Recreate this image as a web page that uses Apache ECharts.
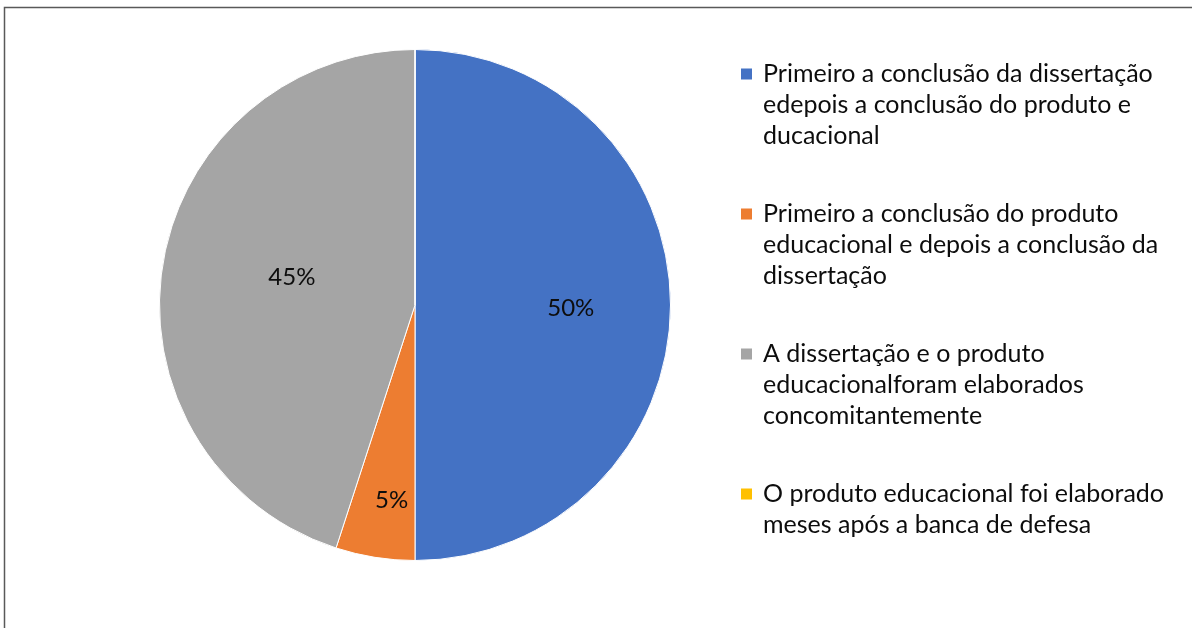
<!DOCTYPE html>
<html>
<head>
<meta charset="utf-8">
<script src="https://cdn.jsdelivr.net/npm/echarts@6/dist/echarts.min.js"></script>
<style>
html,body{margin:0;padding:0;background:#fff;}
#chart{width:1192px;height:628px;}
</style>
</head>
<body>
<div id="chart"></div>
<script>
var categories = [
  'Primeiro a conclusão da dissertação\nedepois a conclusão do produto e\nducacional',
  'Primeiro a conclusão do produto\neducacional e depois a conclusão da\ndissertação',
  'A dissertação e o produto\neducacionalforam elaborados\nconcomitantemente',
  'O produto educacional foi elaborado\nmeses após a banca de defesa'
];
var values = [50, 5, 45, 0];
var colors = ['#4472C4', '#ED7D31', '#A5A5A5', '#FFC000'];

var FONT = 'Lato';
var LH = 31;
var ICON = 11;
var labelOffsets = [[25, 3], [-3, 66], [6, -7], [0, 0]];
var legendIconCenters = [74, 214, 354, 494];

var chart = echarts.init(document.getElementById('chart'), null, {renderer: 'canvas'});

var data = categories.map(function (name, i) {
  return {
    name: name,
    value: values[i],
    itemStyle: {color: colors[i]},
    label: {show: values[i] > 0, offset: labelOffsets[i]}
  };
});

function iconFor(color, h) {
  var y = LH / 2 - ICON / 2;
  var svg = '<svg xmlns="http://www.w3.org/2000/svg" width="' + ICON + '" height="' + h +
    '" viewBox="0 0 ' + ICON + ' ' + h + '"><rect x="0" y="' + y + '" width="' + ICON +
    '" height="' + ICON + '" fill="' + color + '"/></svg>';
  return 'image://data:image/svg+xml;utf8,' + encodeURIComponent(svg);
}

var legends = categories.map(function (name, i) {
  var lines = name.split('\n').length;
  var h = lines * LH;
  return {
    show: true,
    data: [{name: name, icon: iconFor(colors[i], h)}],
    orient: 'vertical',
    left: 741,
    top: legendIconCenters[i] - LH / 2,
    padding: 0,
    itemWidth: ICON,
    itemHeight: h,
    selectedMode: false,
    textStyle: {
      fontFamily: FONT,
      fontSize: 25,
      lineHeight: LH,
      color: '#0D0D0D',
      padding: [0, 0, 0, 6]
    }
  };
});

var option = {
  animation: false,
  backgroundColor: '#fff',
  color: colors,
  legend: legends,
  graphic: [{
    type: 'rect',
    shape: {x: 4.5, y: 7.5, width: 1300, height: 800},
    style: {fill: 'none', stroke: '#595959', lineWidth: 1.5},
    silent: true
  }],
  series: [{
    type: 'pie',
    center: [415, 305],
    radius: [0, 255.5],
    startAngle: 90,
    clockwise: true,
    avoidLabelOverlap: false,
    emphasis: {disabled: true},
    itemStyle: {borderColor: '#fff', borderWidth: 1},
    label: {
      position: 'inside',
      formatter: '{c}%',
      fontFamily: FONT,
      fontSize: 24,
      color: '#0D0D0D'
    },
    labelLine: {show: false},
    data: data
  }]
};
chart.setOption(option);
</script>
</body>
</html>
